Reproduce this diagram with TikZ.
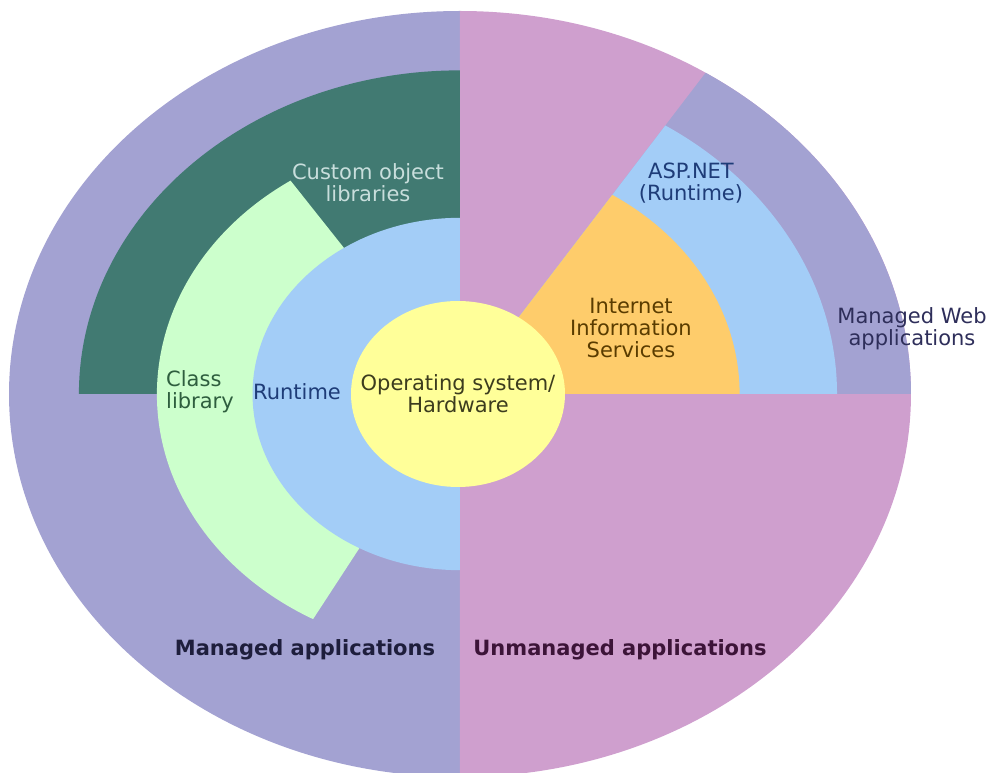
\documentclass[tikz,border=0pt]{standalone}
\usepackage{fontspec}
\setmainfont{DejaVu Sans}
\definecolor{lav}{HTML}{A3A2D2}
\definecolor{pnk}{HTML}{CF9FCE}
\definecolor{tealbg}{HTML}{417A72}
\definecolor{grn}{HTML}{CCFFCC}
\definecolor{sky}{HTML}{A3CDF7}
\definecolor{yel}{HTML}{FFFF99}
\definecolor{org}{HTML}{FECC6B}
\definecolor{custtxt}{HTML}{C8DEDC}
\definecolor{clstxt}{HTML}{2E5E3E}
\definecolor{bluetxt}{HTML}{1E3C78}
\definecolor{ostxt}{HTML}{3C3C1E}
\definecolor{iistxt}{HTML}{5A3C00}
\definecolor{webtxt}{HTML}{2E2E5A}
\definecolor{mantxt}{HTML}{1E1E3C}
\definecolor{unmtxt}{HTML}{3C1438}
\tikzset{lbl/.style={align=center,inner sep=0pt,font=\fontsize{21}{22}\selectfont},
  biglbl/.style={lbl,font=\fontsize{21}{22}\selectfont\bfseries}}
\begin{document}
\begin{tikzpicture}[x=1pt,y=1pt]
\useasboundingbox (-460,-379) rectangle (528,394);
\begin{scope}[x=383pt,y=383pt,xscale=1.1775]
\fill[lav] (0,0) -- (90:1) arc[start angle=90,end angle=270,radius=1] -- cycle;
\fill[pnk] (0,0) -- (-90:1) arc[start angle=-90,end angle=90,radius=1] -- cycle;
\foreach \r/\c in {1/lav,0.836/sky,0.62/org}
  \fill[\c] (0,0) -- (0:\r) arc[start angle=0,end angle=57,radius=\r] -- cycle;
\fill[tealbg] (0,0) -- (90:0.845) arc[start angle=90,end angle=180,radius=0.845] -- cycle;
\fill[grn] (124:0.45) -- (124:0.672) arc[start angle=124,end angle=241,radius=0.672]
  -- (241:0.45) arc[start angle=241,end angle=124,radius=0.45] -- cycle;
\fill[sky] (0,0) -- (90:0.46) arc[start angle=90,end angle=270,radius=0.46] -- cycle;
\end{scope}
\fill[yel] (-2,0) ellipse[x radius=107,y radius=93];
\node[lbl,text=ostxt] (os) at (-2,0) {Operating system/\\Hardware};
\node[lbl,text=custtxt] (cust) at (-92,211) {Custom object\\libraries};
\node[lbl,text=clstxt,align=left] (cls) at (-260,2) {Class\\library};
\node[lbl,text=bluetxt] (rt) at (-163,2) {Runtime};
\node[lbl,text=iistxt] (iis) at (171,66) {Internet\\Information\\Services};
\node[lbl,text=bluetxt] (asp) at (231,211) {ASP.NET\\(Runtime)};
\node[lbl,text=webtxt] (web) at (452,65) {Managed Web\\applications};
\node[biglbl,text=mantxt] (man) at (-155,-256) {Managed applications};
\node[biglbl,text=unmtxt] (unman) at (160,-256) {Unmanaged applications};
\end{tikzpicture}
\end{document}
